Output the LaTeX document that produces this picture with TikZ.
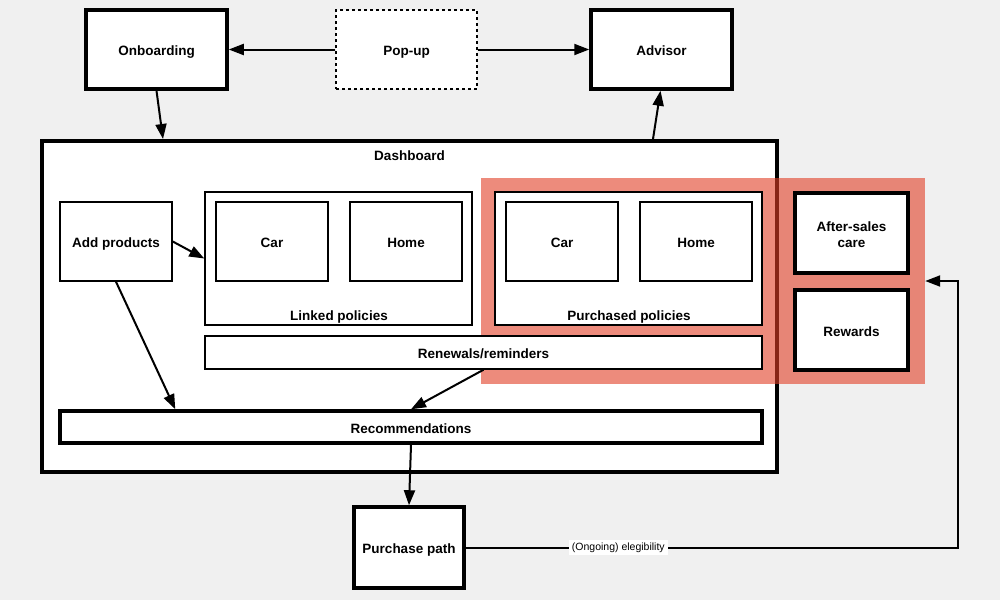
\documentclass[tikz,border=0pt]{standalone}
\usepackage{fontspec}
\setmainfont{Liberation Sans}
\usetikzlibrary{arrows.meta,calc}
\definecolor{bg}{RGB}{240,240,240}
\definecolor{salmon}{RGB}{225,63,38}
\tikzset{
  boxbase/.style={draw=black, fill=white, line width=1.5pt, inner sep=0pt, font=\fontsize{13.5}{16}\selectfont\bfseries, align=center},
  box/.style={boxbase, text height=12pt, text depth=0pt},
  boldbox/.style={box, line width=3.5pt},
  dotbox/.style={box, dash pattern=on 3pt off 3pt},
  arr/.style={line width=2pt, -{Triangle[length=15pt,width=11pt]}},
  lbl/.style={font=\fontsize{13.5}{16}\selectfont\bfseries, inner sep=0pt, text height=12pt, text depth=0pt},
  mlbl/.style={font=\fontsize{13.5}{16}\selectfont\bfseries, inner sep=0pt, align=center},
  smalllbl/.style={font=\fontsize{10.5}{12}\selectfont, fill=white, inner sep=3pt}
}
\begin{document}
\begin{tikzpicture}[x=1pt,y=-1pt]
\useasboundingbox (0,0) rectangle (1000,600);
\fill[bg] (0,0) rectangle (1000,600);
% top row
\node[boldbox, minimum width=141pt, minimum height=79pt] (onb) at (156.5,49.5) {Onboarding};
\node[dotbox, minimum width=141pt, minimum height=79pt] (pop) at (406.5,49.5) {Pop-up};
\node[boldbox, minimum width=141pt, minimum height=79pt] (adv) at (661.5,49.5) {Advisor};
% dashboard
\node[box, line width=4pt, minimum width=735pt, minimum height=331pt] (dash) at (409.5,306.5) {};
\node[lbl] (dashlbl) at ($(dash.north)+(0,15)$) {Dashboard};
\node[box, minimum width=112pt, minimum height=79pt] (add) at (116,241.5) {Add products};
\node[box, minimum width=267pt, minimum height=133pt] (linked) at (338.5,258.5) {};
\node[lbl] (linkedlbl) at (339,314) {Linked policies};
\node[box, minimum width=112pt, minimum height=79pt] (car1) at (272,241.5) {Car};
\node[box, minimum width=112pt, minimum height=79pt] (home1) at (406,241.5) {Home};
% red region
\node[fill=salmon, fill opacity=0.6, minimum width=444pt, minimum height=206pt, inner sep=0pt] (red) at (703,281) {};
\node[box, minimum width=267pt, minimum height=133pt] (purch) at (628.5,258.5) {};
\node[lbl] (purchlbl) at (629,314) {Purchased policies};
\node[box, minimum width=112pt, minimum height=79pt] (car2) at (562,241.5) {Car};
\node[box, minimum width=112pt, minimum height=79pt] (home2) at (696,241.5) {Home};
\node[box, minimum width=557pt, minimum height=33pt] (ren) at (483.5,352.5) {Renewals/reminders};
\node[boldbox, minimum width=113pt, minimum height=80pt] (after) at (851.5,233) {};
\node[mlbl] (aftertxt) at ($(after.center)+(0,2)$) {After-sales\\care};
\node[boldbox, minimum width=113pt, minimum height=80pt] (rew) at (851.5,330) {Rewards};
\node[boldbox, minimum width=702pt, minimum height=32pt] (rec) at (411,427) {Recommendations};
\node[boldbox, minimum width=110pt, minimum height=81pt] (pp) at (409,547.5) {Purchase path};
\coordinate (bend) at (958,548);
% connectors
\draw[arr] (pop.west) -- (onb.east);
\draw[arr] (pop.east) -- (adv.west);
\draw[arr] (onb.south) -- ($(dash.north west)+(123,0)$);
\draw[arr] ($(dash.north west)+(613,0)$) -- ($(adv.south)+(-1,0)$);
\draw[arr] (add.east) -- (linked.west);
\draw[arr] (add.south) -- ($(rec.north west)+(117,0)$);
\draw[arr] (ren.south) -- (rec.north);
\draw[arr] (rec.south) -- (pp.north);
\draw[arr] (pp.east) -- node[smalllbl, pos=0.31] (elig) {(Ongoing) elegibility} (pp.east -| bend) |- (red.east);
\end{tikzpicture}
\end{document}
